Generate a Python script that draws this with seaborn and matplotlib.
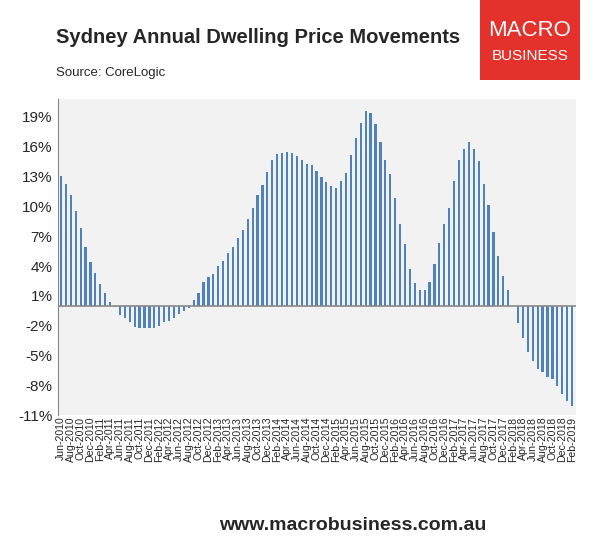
import matplotlib
matplotlib.use("Agg")
import matplotlib.pyplot as plt
import seaborn as sns
import pandas as pd
import numpy as np

values = [13.1,12.3,11.1,9.5,7.8,5.9,4.4,3.3,2.2,1.3,0.4,-0.1,-0.9,-1.2,-1.6,-2.1,-2.2,-2.2,-2.2,-2.2,
          -2.0,-1.6,-1.5,-1.2,-0.8,-0.5,-0.2,0.6,1.3,2.4,2.9,3.2,4.0,4.5,5.3,5.9,6.8,7.6,8.7,9.8,
          11.1,12.2,13.5,14.7,15.3,15.4,15.5,15.4,15.1,14.7,14.3,14.2,13.6,13.0,12.5,12.1,11.9,12.6,13.4,15.2,
          16.9,18.4,19.6,19.4,18.3,16.5,14.7,13.3,10.8,8.2,6.2,3.7,2.3,1.6,1.6,2.4,4.2,6.3,8.2,9.8,
          12.6,14.7,15.8,16.5,15.8,14.6,12.3,10.1,7.4,5.0,3.0,1.6,0.0,-1.7,-3.2,-4.6,-5.5,-6.3,-6.7,-7.2,
          -7.4,-8.1,-8.9,-9.6,-10.1]
months = pd.date_range("2010-06-01", periods=len(values), freq="MS").strftime("%b-%Y").tolist()
yticks = [-11, -8, -5, -2, 1, 4, 7, 10, 13, 16, 19]

df = pd.DataFrame({"month": months, "value": values})
sns.set_style("white")
plt.rcParams['font.family'] = ['Liberation Sans', 'DejaVu Sans']

fig = plt.figure(figsize=(5.92, 5.5), dpi=100)
ax = fig.add_axes([0.098, 0.245, 0.875, 0.575])
ax.set_facecolor("#f2f2f2")
sns.barplot(data=df, x="month", y="value", color="#4f81bd", width=0.45, ax=ax,
            saturation=1, linewidth=0)
ax.set_ylim(-11, 20.8)
ax.set_xlim(-0.6, len(values) - 0.2)
ax.set_yticks(yticks)
ax.set_yticklabels([f"{t}%" for t in yticks], fontsize=11)
ax.set_xticks(range(0, len(values), 2))
ax.set_xticklabels(months[::2], rotation=90, fontsize=7.6)
ax.tick_params(axis="x", pad=1, length=0)
ax.tick_params(axis="y", length=0, pad=4)
ax.axhline(0, color="#888888", lw=1.2)
ax.set_xlabel(""); ax.set_ylabel("")
for s in ["top", "right", "bottom"]:
    ax.spines[s].set_visible(False)
ax.spines["left"].set_color("#888888")

fig.text(0.095, 0.932, "Sydney Annual Dwelling Price Movements", fontsize=14.5, fontweight="bold", va="center")
fig.text(0.095, 0.868, "Source: CoreLogic", fontsize=9.5, va="center")
fig.text(0.37, 0.045, "www.macrobusiness.com.au", fontsize=14, fontweight="bold", va="center")
lx = fig.add_axes([0.81, 0.855, 0.17, 0.145])
lx.set_facecolor("#e4312b")
lx.set_xticks([]); lx.set_yticks([])
for s in lx.spines.values():
    s.set_visible(False)
lx.text(0.5, 0.62, "MACRO", color="white", fontsize=16, ha="center", va="center", transform=lx.transAxes)
lx.text(0.5, 0.3, "BUSINESS", color="white", fontsize=11, ha="center", va="center", transform=lx.transAxes)
fig.savefig("out.png", dpi=100, facecolor="white")
